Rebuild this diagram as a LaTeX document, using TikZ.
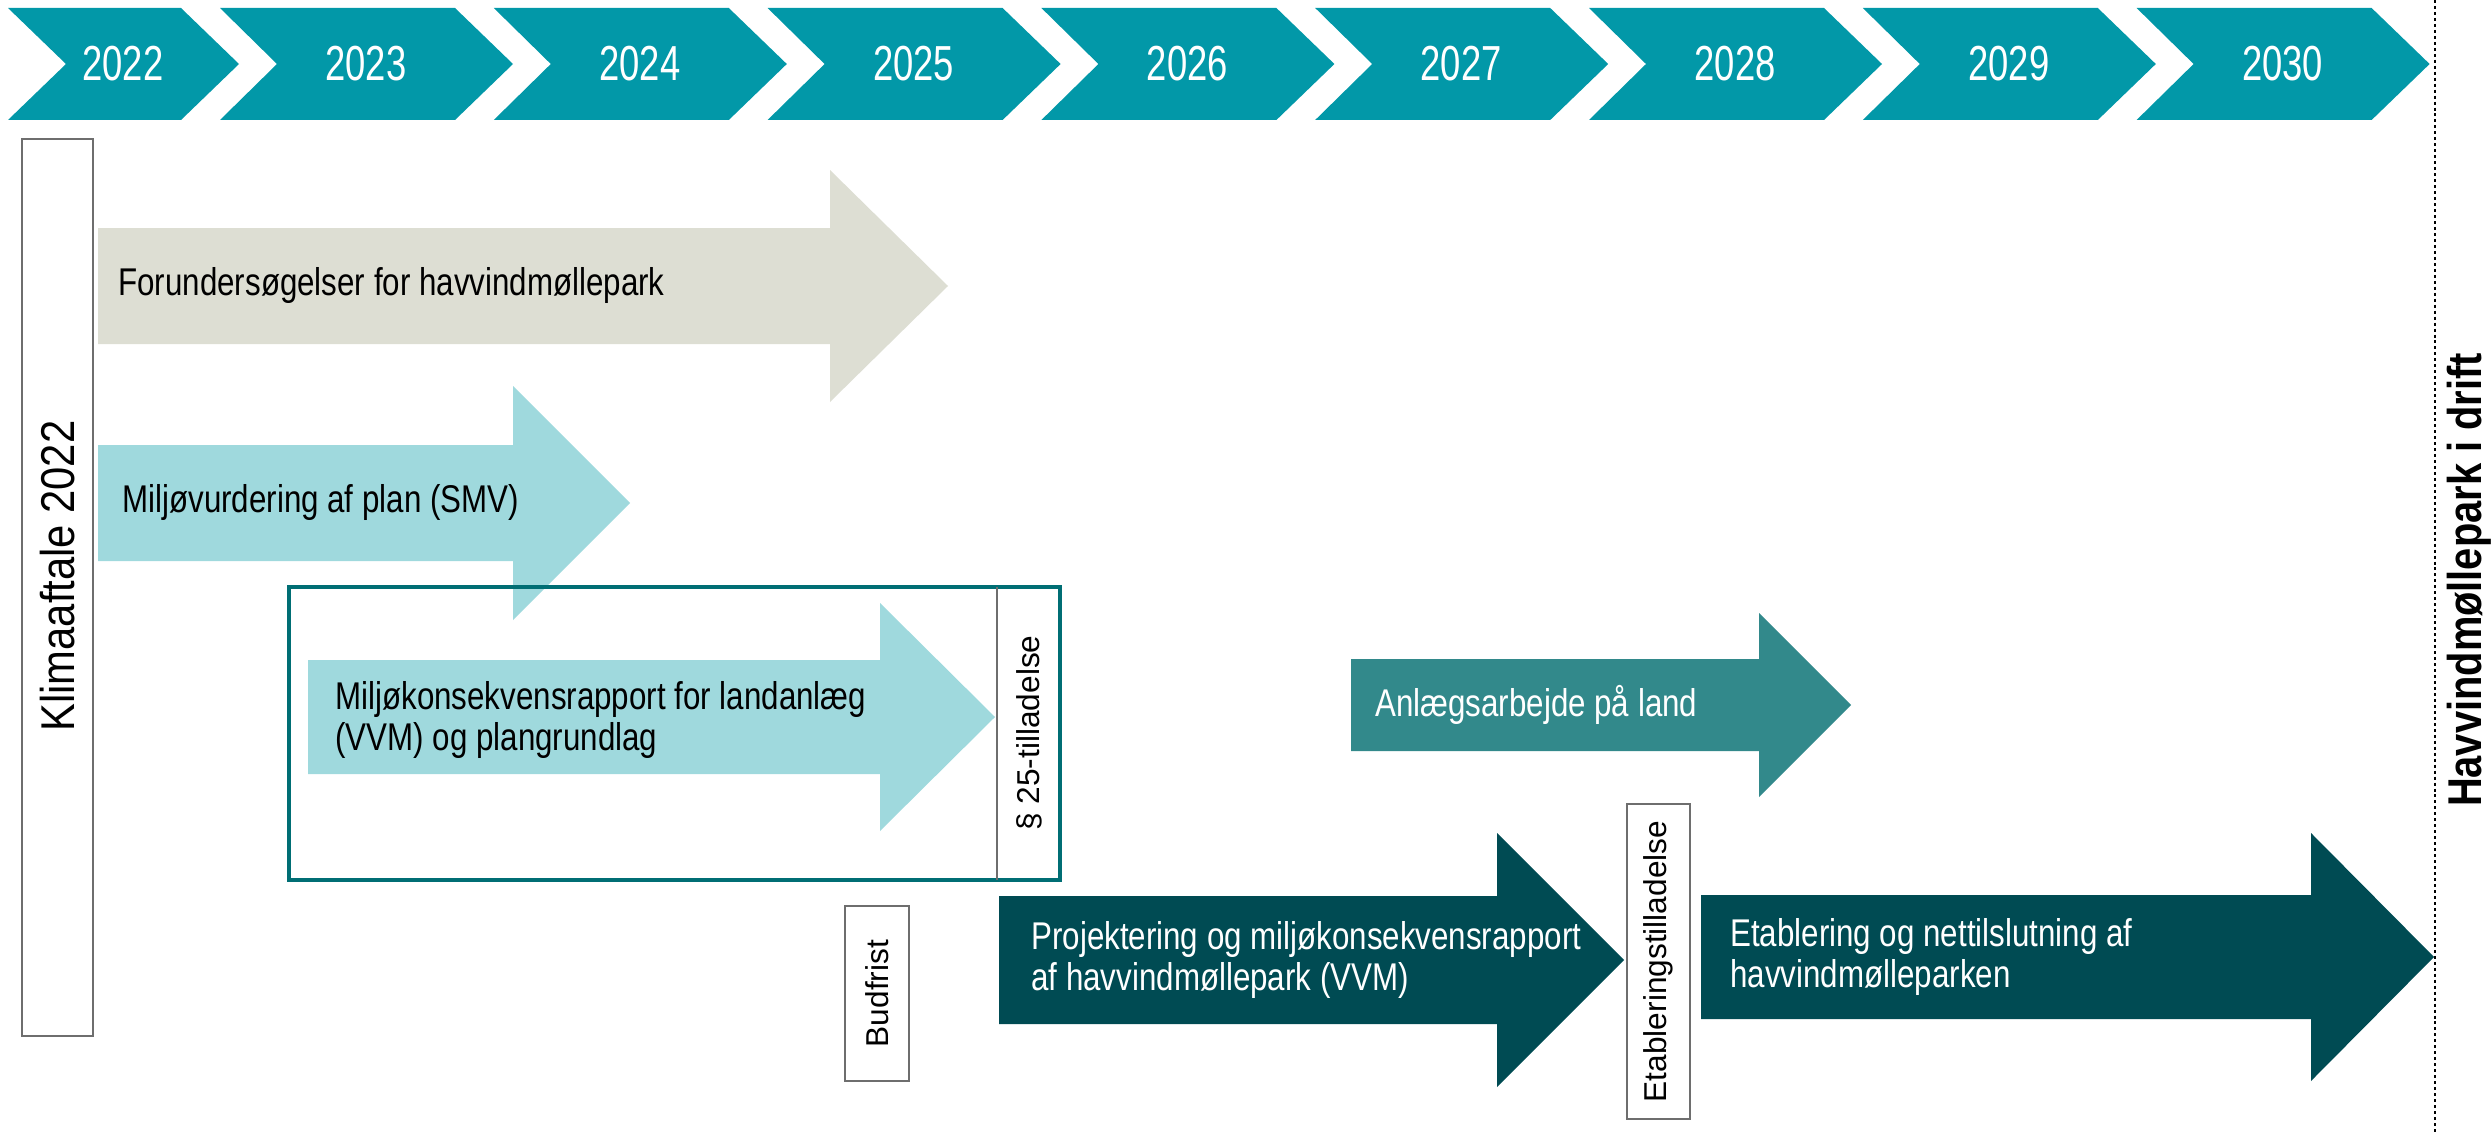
\documentclass[tikz,border=0pt]{standalone}
\usepackage{fontspec}
\setmainfont{Liberation Sans}
\newfontfamily\cond[FakeStretch=0.81]{Liberation Sans}
\newfontfamily\condy[FakeStretch=0.74]{Liberation Sans}
\newfontfamily\condk[FakeStretch=0.84]{Liberation Sans}
\newfontfamily\condkl[FakeStretch=0.88]{Liberation Sans}
\definecolor{chev}{RGB}{2,152,168}
\definecolor{grayarrow}{RGB}{221,222,211}
\definecolor{lightcyan}{RGB}{159,217,221}
\definecolor{midteal}{RGB}{50,137,139}
\definecolor{darkteal}{RGB}{0,75,83}
\definecolor{framecol}{RGB}{0,110,116}
\definecolor{boxline}{RGB}{110,110,110}
\newcommand\myarrow[7]{%
  \fill[#1] (#2,#3-#5) -- (#4,#3-#5) -- (#4,#3-#6) -- (#4+#7,#3) -- (#4,#3+#6) -- (#4,#3+#5) -- (#2,#3+#5) -- cycle;}
\newcommand\mychev[6]{% left, notch, topright, tip, ytop, ybot
  \fill[chev] (#1,#5) -- (#3,#5) -- (#4,{(#5+#6)/2}) -- (#3,#6) -- (#1,#6) -- (#2,{(#5+#6)/2}) -- cycle;}
\tikzset{
  yearlbl/.style={text=white,font=\condy\fontsize{28}{32}\selectfont,inner sep=0pt},
  arrlbl/.style={font=\cond\fontsize{22}{23.5}\selectfont,inner sep=0pt,anchor=west,align=left},
  vlbl/.style={font=\fontsize{18}{21}\selectfont,rotate=90,inner sep=0pt},
  tallbox/.style={draw=boxline,line width=0.8pt},
}
\begin{document}
\begin{tikzpicture}[x=0.02cm,y=-0.02cm]
\useasboundingbox (0,0) rectangle (2492,1132);
% timeline chevrons
\mychev{8}{66}{181}{239}{8}{120}
\node[yearlbl] (y2022) at (123,64) {2022};
\foreach \k/\yr in {1/2023,2/2024,3/2025,4/2026,5/2027,6/2028,7/2029,8/2030}{
  \pgfmathsetmacro\L{220+273.8*(\k-1)}
  \mychev{\L}{\L+57}{\L+235}{\L+293}{8}{120}
  \node[yearlbl] (y\yr) at (\L+146,64) {\yr};
}
% dotted end line
\coordinate (dtop) at (2435,0);
\coordinate (dbot) at (2435,1132);
\draw[line width=1.6pt,dash pattern=on 1.7pt off 1.7pt] (dtop) -- (dbot);
% Klimaaftale box
\draw[tallbox] (22,139) rectangle (93,1036);
\node[font=\condkl\fontsize{27}{31}\selectfont,rotate=90,inner sep=0pt] (klima) at (57.5,576) {Klimaaftale 2022};
% arrows
\myarrow{grayarrow}{98}{286}{830}{58}{116}{118}
\node[arrlbl] (forund) at (118,286) {Forundersøgelser for havvindmøllepark};
\myarrow{lightcyan}{98}{503}{513}{58}{117}{117}
\node[arrlbl] (smv) at (122,503) {Miljøvurdering af plan (SMV)};
% frame
\draw[framecol,line width=2.8pt] (289,587) rectangle (1060,880);
\draw[boxline,line width=0.8pt] (997,587) -- (997,880);
\node[vlbl] (p25) at (1029,733) {§ 25-tilladelse};
\myarrow{lightcyan}{308}{717}{880}{57}{114}{115}
\node[arrlbl] (vvm1) at (335,720) {Miljøkonsekvensrapport for landanlæg\\(VVM) og plangrundlag};
% Anlaeg
\myarrow{midteal}{1351}{705}{1759}{46}{92}{92}
\node[arrlbl,text=white] (anlaeg) at (1375,705) {Anlægsarbejde på land};
% Budfrist
\draw[tallbox] (845,906) rectangle (909,1081);
\node[vlbl] (bud) at (877,993.5) {Budfrist};
% Projektering
\myarrow{darkteal}{999}{960}{1497}{64}{127}{127}
\node[arrlbl,text=white] (proj) at (1031,960) {Projektering og miljøkonsekvensrapport\\af havvindmøllepark (VVM)};
% Etableringstilladelse
\draw[tallbox] (1627,804) rectangle (1690,1119);
\node[vlbl] (etabt) at (1658.5,961.5) {Etableringstilladelse};
% Etablering
\myarrow{darkteal}{1701}{957}{2311}{62}{124}{123}
\node[arrlbl,text=white] (etab) at (1730,957) {Etablering og nettilslutning af\\havvindmølleparken};
% in operation
\node[font=\condk\bfseries\fontsize{27}{31}\selectfont,rotate=90,inner sep=0pt] (drift) at (2469,580) {Havvindmøllepark i drift};
\end{tikzpicture}
\end{document}
